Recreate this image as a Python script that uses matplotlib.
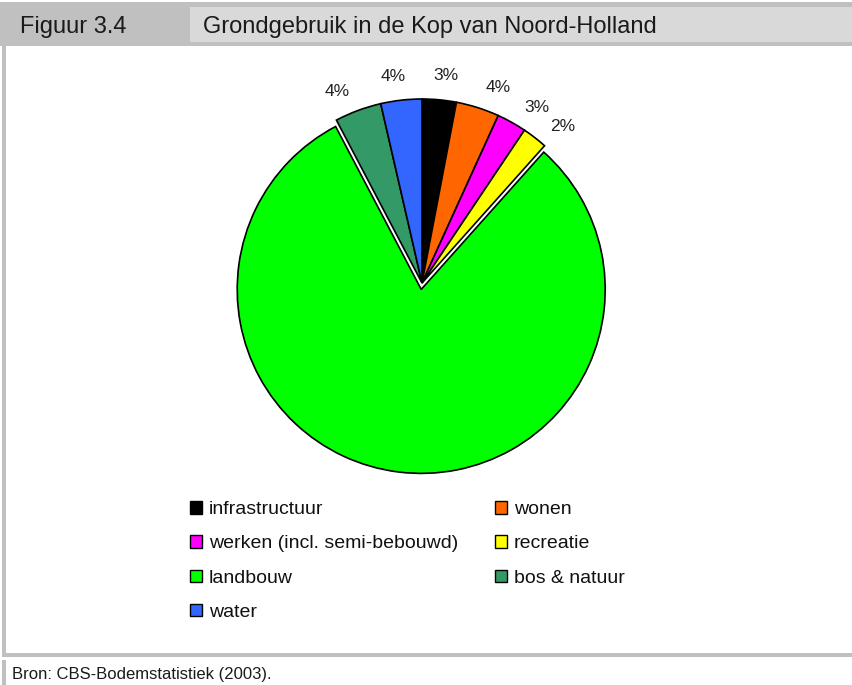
import matplotlib
matplotlib.use("Agg")
import numpy as np
import matplotlib.pyplot as plt
from matplotlib.patches import Rectangle, Patch

plt.rcParams['font.family'] = ['Liberation Sans', 'DejaVu Sans']

# Land use shares (percent)
categories = ["infrastructuur", "wonen", "werken (incl. semi-bebouwd)", "recreatie",
              "landbouw", "bos & natuur", "water"]
shares = [3.0, 3.8, 2.6, 2.2, 80.7, 4.1, 3.6]
colors = ["#000000", "#FF6600", "#FF00FF", "#FFFF00", "#00FF00", "#339966", "#3366FF"]
explode = [0, 0, 0, 0, 0.035, 0, 0]

figure_label = "Figuur 3.4"
title = "Grondgebruik in de Kop van Noord-Holland"
source = "Bron: CBS-Bodemstatistiek (2003)."

W, H = 852, 685
fig = plt.figure(figsize=(W / 100, H / 100), dpi=100)
fig.patch.set_facecolor("white")


def box(x0, y0, x1, y1, color):
    """Rectangle given in pixel coordinates measured from the top-left."""
    fig.add_artist(Rectangle((x0 / W, 1 - y1 / H), (x1 - x0) / W, (y1 - y0) / H,
                             transform=fig.transFigure, facecolor=color,
                             edgecolor="none", zorder=0))


# Header band and frame
box(0, 2, W, 46, "#C0C0C0")
box(190, 7, W, 42, "#D9D9D9")
box(2, 46, 6, 655, "#C0C0C0")
box(2, 653, W, 657, "#C0C0C0")
box(2, 660, 6, H, "#C0C0C0")

fig.text(20 / W, 1 - 33 / H, figure_label, fontsize=17, color="#1A1A1A", va="baseline")
fig.text(203 / W, 1 - 33 / H, title, fontsize=17, color="#1A1A1A", va="baseline")
fig.text(12 / W, 1 - 675 / H, source, fontsize=12, color="#1A1A1A", va="center")

# Pie
cx, cy, R = 422, 283, 184
S = 2 * 1.25 * R
ax = fig.add_axes([(cx - S / 2) / W, 1 - (cy + S / 2) / H, S / W, S / H])
wedges, texts, autotexts = ax.pie(
    shares, colors=colors, explode=explode, startangle=90, counterclock=False,
    autopct=lambda p: f"{p:.0f}%", pctdistance=1.14,
    wedgeprops=dict(edgecolor="black", linewidth=1.2),
    textprops=dict(fontsize=12.5, color="#222222"))
ax.set_xlim(-1.25, 1.25)
ax.set_ylim(-1.25, 1.25)
ax.set_aspect("equal")
ax.axis("off")

# Percentage labels sit just outside the rim, spread slightly away from the top
label_r = 1.17
label_y0 = -0.035
for i, (w, t) in enumerate(zip(wedges, autotexts)):
    if categories[i] == "landbouw":
        t.set_visible(False)
        continue
    mid = 0.5 * (w.theta1 + w.theta2)          # degrees, counter-clockwise from +x
    from_top = 90 - mid                        # clockwise from 12 o'clock
    from_top = (from_top + 180) % 360 - 180
    spread = 3.0 * np.sign(from_top) * min(1.0, abs(from_top) / 15.0)
    a = np.deg2rad(90 - (from_top + spread))
    t.set_position((label_r * np.cos(a), label_y0 + label_r * np.sin(a)))
    t.set_ha("center")
    t.set_va("center")

# Legend laid out in two columns, filled row by row
handles = [Patch(facecolor=c, edgecolor="black", linewidth=1.0) for c in colors]
col1 = [0, 2, 4, 6]
col2 = [1, 3, 5]
common = dict(frameon=False, fontsize=14, handlelength=0.62, handleheight=0.62,
              handletextpad=0.35, labelspacing=0.88, borderpad=0, borderaxespad=0,
              loc="upper left", labelcolor="#111111")
fig.legend([handles[i] for i in col1], [categories[i] for i in col1],
           bbox_to_anchor=(190 / W, 1 - 501 / H), **common)
fig.legend([handles[i] for i in col2], [categories[i] for i in col2],
           bbox_to_anchor=(495 / W, 1 - 501 / H), **common)

fig.savefig("out.png", dpi=100)
